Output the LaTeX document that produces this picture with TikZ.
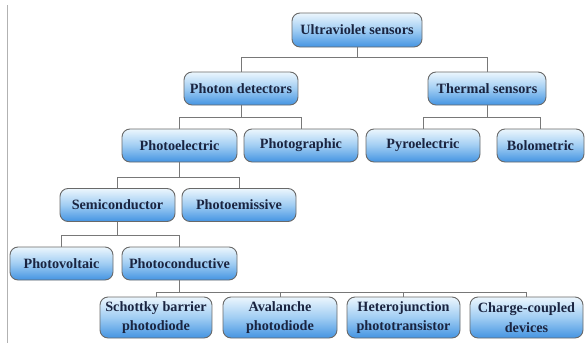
\documentclass[tikz,border=0pt]{standalone}
\usepackage{fontspec}
\setmainfont{Liberation Serif}
\definecolor{boxtop}{RGB}{236,246,253}
\definecolor{boxmid}{RGB}{160,205,243}
\definecolor{boxbot}{RGB}{68,148,226}
\definecolor{boxline}{RGB}{105,105,105}
\definecolor{txt}{RGB}{26,36,64}
\definecolor{wire}{RGB}{120,120,120}
\tikzset{
  sbox/.style={draw=boxline, line width=0.9pt, rounded corners=8pt,
    top color=boxtop, bottom color=boxbot, middle color=boxmid,
    minimum height=33pt, inner sep=0pt, align=center, text=txt,
    font=\fontsize{14.2}{19.5}\selectfont\bfseries},
  tall/.style={minimum height=41pt},
  wirestyle/.style={draw=wire, line width=0.9pt}
}
\begin{document}
\begin{tikzpicture}[x=1pt,y=-1pt]
\useasboundingbox (0,0) rectangle (586,343);
\draw[draw=black!30, line width=0.8pt] (7.5,5) -- (7.5,343);
\node[sbox, minimum width=130pt, minimum height=34pt] (uv) at (357,30) {Ultraviolet sensors};
\node[sbox, minimum width=114pt] (pd) at (241,88.5) {Photon detectors};
\node[sbox, minimum width=118pt] (ts) at (487,88.5) {Thermal sensors};
\node[sbox, minimum width=115pt] (pe) at (179.5,145.5) {Photoelectric};
\node[sbox, minimum width=114pt] (pg) at (301,145.5) {Photographic};
\node[sbox, minimum width=114pt] (py) at (423,145.5) {Pyroelectric};
\node[sbox, minimum width=87pt] (bo) at (540.5,145.5) {Bolometric};
\node[sbox, minimum width=115pt] (sc) at (117.5,205) {Semiconductor};
\node[sbox, minimum width=114pt] (pm) at (239,205) {Photoemissive};
\node[sbox, minimum width=103pt] (pv) at (61.5,263.5) {Photovoltaic};
\node[sbox, minimum width=115pt] (pc) at (179.5,263.5) {Photoconductive};
\node[sbox, tall, minimum width=112pt] (sb) at (156,317.5) {Schottky barrier\\photodiode};
\node[sbox, tall, minimum width=114pt] (av) at (280,317.5) {Avalanche\\photodiode};
\node[sbox, tall, minimum width=113pt] (hj) at (403.5,317.5) {Heterojunction\\phototransistor};
\node[sbox, tall, minimum width=113pt] (cc) at (526.5,317.5) {Charge-coupled\\devices};
\foreach \p/\c/\d in {uv/pd/10, uv/ts/10, pd/pe/12, pd/pg/12, ts/py/12, ts/bo/12,
  pe/sc/15, pe/pm/15, sc/pv/13, sc/pc/13, pc/sb/12, pc/av/12, pc/hj/12, pc/cc/12}
  \draw[wirestyle] (\p.south) -- ++(0,\d) -| (\c.north);
\end{tikzpicture}
\end{document}
